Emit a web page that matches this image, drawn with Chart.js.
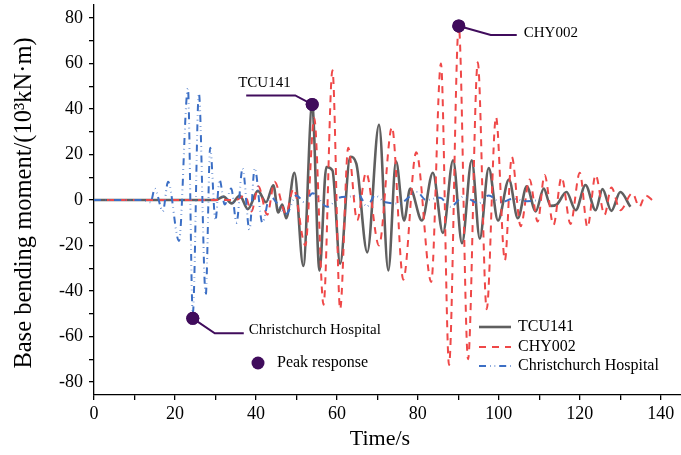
<!DOCTYPE html>
<html>
<head>
<meta charset="utf-8">
<script src="https://cdn.jsdelivr.net/npm/chart.js@4.4.1/dist/chart.umd.min.js"></script>
<style>
  html, body { margin: 0; padding: 0; background: #fff; }
  canvas { display: block; }
</style>
</head>
<body>
<canvas id="moment" width="681" height="455"></canvas>
<script>
// Base bending moment time histories (10^3 kN·m) under three ground motions
const seriesNames = ['TCU141', 'CHY002', 'Christchurch Hospital'];

const tcuTime = [0, 30, 32, 34, 36, 38, 40.5, 42.5, 44.3, 45.5,
  46.5, 47.5, 49.5, 51.7, 53.9, 55.7, 57.4, 58.9, 60.8, 63.3,
  64.8, 67.5, 70.4, 72.7, 74.6, 76.6, 78.1, 81, 83.7, 86.2,
  88.7, 90.9, 93.3, 95.3, 97.5, 99.8, 102.5, 104.7, 106.9, 109.1,
  111.1, 112.8, 114.3, 116.7, 119, 121.4, 123.9, 125.6, 127.8, 130,
  132.5];
const tcuMoment = [0, 0, 1.5, -1.5, 2, -4, 4, -1, 6.5, -5.5,
  -2, -8, 12, -29, 42, -31, 14.5, 13, -28, 19,
  16, -23, 33, -31, 17, -9, 5, -9, 12, -14.5,
  17.5, -19, 17.5, -17, 14, -9, 9, -8, 6, -5,
  5, -2.6, -2, 3.5, -4.5, 6.6, -4.5, 4.8, -4.8, 3.5,
  -3];

const chyTime = [0, 35, 37.3, 38.9, 40.6, 42.8, 44.6, 47.4, 49.3, 52.2,
  54.4, 56.7, 58.9, 60.8, 62.8, 65, 67.2, 70.4, 73.6, 76.4,
  79.6, 83.3, 85.7, 87.7, 90.1, 92.4, 94.8, 97, 99.3, 101.5,
  103.2, 105.4, 107.6, 109.6, 111.3, 113.5, 115.5, 117.7, 120, 121.9,
  123.9, 126.1, 127.8, 130, 133, 134.7, 136.2, 138.2];
const chyMoment = [0, 0, 2, -5, 6, -6.5, 8, -6, 5, -20,
  36, -46, 57, -48, 23, -9, 12, -20, 32, -35,
  21, -36, 60, -72.5, 76.5, -70, 60.5, -48, 36.5, -26.5,
  19, -11.5, 9, -9.5, 11, -11, 10, -10.5, 12, -12,
  11, -6.5, 5.5, -4.5, 3, -3, 2, -0.5];

const chchTime = [0, 12, 14, 15, 17, 18.3, 21, 23.2, 24.4, 25.9,
  27.6, 28.7, 30, 31, 32.3, 33.9, 35.2, 36.7, 38.4, 39.7,
  41.6, 43.5, 45, 47.5, 50, 52, 54, 57.6, 60.5, 63,
  65.5, 67.4, 69.4, 72, 75.4, 79.8, 82, 85.5, 88, 91.3,
  95, 97.5, 100.5, 103.5, 107, 110.5];
const chchMoment = [0, 0, -1, 5, -5, 8, -18, 49, -50, 47,
  -42, 23, -9, 9, -2, 5, -10, 14, -13, 14,
  -10, 2, -1, -6, 2, -1, 3, -3, 1, 1.5,
  2, -3, 2, -1, -1.5, 3.5, 0, 1, -3, 1.5,
  -1.5, 2, -1, 0.5, -0.5, 0];

// Peak responses marked on the plot
const peakTime = [24.4, 53.9, 90.1];
const peakMoment = [-52, 42, 76.5];
const peakLabels = ['Christchurch Hospital', 'TCU141', 'CHY002'];
const peakLegendText = 'Peak response';

const xTickLabels = [0, 20, 40, 60, 80, 100, 120, 140];
const yTickLabels = [-80, -60, -40, -20, 0, 20, 40, 60, 80];
const xTitle = 'Time/s';
const yTitle = 'Base bending moment/(10³kN·m)';

const pts = (t, v) => t.map((x, i) => ({ x: x, y: v[i] }));

const SERIF = '"Liberation Serif", "Times New Roman", serif';
const PURPLE = '#400c5c';
const lineStyles = {
  'TCU141': { color: '#5f5f5f', width: 2.6, dash: [] },
  'CHY002': { color: '#ef4848', width: 2, dash: [7, 6] },
  'Christchurch Hospital': { color: '#3c6fc5', width: 2, dash: [7, 4, 0.6, 4, 0.6, 4] }
};

// Leader lines from each peak marker to its label (pixel offsets)
const calloutGeometry = [
  { elbow: [22, 15], end: [51, 15], text: [56, 12] },
  { elbow: [-17, -9], end: [-66, -9], text: [-74, -21] },
  { elbow: [32, 9], end: [58, 9], text: [65, 7] }
];

const annotations = {
  id: 'annotations',
  afterDatasetsDraw(chart) {
    const ctx = chart.ctx;
    const meta = chart.getDatasetMeta(0);
    ctx.save();
    ctx.strokeStyle = PURPLE;
    ctx.lineWidth = 2;
    ctx.setLineDash([]);
    ctx.fillStyle = '#000';
    ctx.font = '15px ' + SERIF;
    ctx.textAlign = 'left';
    ctx.textBaseline = 'middle';
    meta.data.forEach((pt, i) => {
      const g = calloutGeometry[i];
      ctx.beginPath();
      ctx.moveTo(pt.x, pt.y);
      ctx.lineTo(pt.x + g.elbow[0], pt.y + g.elbow[1]);
      ctx.lineTo(pt.x + g.end[0], pt.y + g.end[1]);
      ctx.stroke();
      ctx.fillText(peakLabels[i], pt.x + g.text[0], pt.y + g.text[1]);
    });
    // markers sit above the leader lines
    ctx.fillStyle = PURPLE;
    meta.data.forEach(pt => {
      ctx.beginPath();
      ctx.arc(pt.x, pt.y, 6.5, 0, Math.PI * 2);
      ctx.fill();
    });

    // legend
    ctx.font = '16px ' + SERIF;
    const rows = [327, 347, 366];
    seriesNames.forEach((name, i) => {
      const s = lineStyles[name];
      ctx.strokeStyle = s.color;
      ctx.lineWidth = s.width;
      ctx.setLineDash(s.dash);
      ctx.beginPath();
      ctx.moveTo(479, rows[i]);
      ctx.lineTo(511, rows[i]);
      ctx.stroke();
      ctx.fillStyle = '#000';
      ctx.fillText(name, 518, rows[i]);
    });
    ctx.setLineDash([]);
    ctx.fillStyle = PURPLE;
    ctx.beginPath();
    ctx.arc(258, 363, 6.5, 0, Math.PI * 2);
    ctx.fill();
    ctx.fillStyle = '#000';
    ctx.fillText(peakLegendText, 277, 363);

    // axis titles
    ctx.font = '22px ' + SERIF;
    ctx.textAlign = 'center';
    ctx.fillText(xTitle, 380, 439);
    ctx.save();
    ctx.translate(25, 203);
    ctx.rotate(-Math.PI / 2);
    ctx.font = '24.5px ' + SERIF;
    ctx.fillText(yTitle, 0, 0);
    ctx.restore();
    ctx.restore();
  }
};

function lineDataset(name, t, v, order) {
  const s = lineStyles[name];
  return {
    label: name,
    data: pts(t, v),
    borderColor: s.color,
    borderWidth: s.width,
    borderDash: s.dash,
    pointRadius: 0,
    fill: false,
    cubicInterpolationMode: 'monotone',
    order: order
  };
}

const axisFont = { family: SERIF, size: 18 };
const axisGrid = { display: true, drawOnChartArea: false, drawTicks: true, tickLength: 5, color: '#000', lineWidth: 1.3 };
const axisBorder = { display: true, color: '#000', width: 1.3 };

new Chart(document.getElementById('moment'), {
  type: 'line',
  data: {
    datasets: [
      {
        label: peakLegendText,
        data: pts(peakTime, peakMoment),
        showLine: false,
        pointRadius: 6.5,
        pointBackgroundColor: PURPLE,
        pointBorderWidth: 0,
        order: 0
      },
      lineDataset('Christchurch Hospital', chchTime, chchMoment, 1),
      lineDataset('CHY002', chyTime, chyMoment, 2),
      lineDataset('TCU141', tcuTime, tcuMoment, 3)
    ]
  },
  options: {
    responsive: false,
    devicePixelRatio: 1,
    animation: false,
    layout: { autoPadding: false, padding: { top: 5, right: 0, bottom: 0, left: 0 } },
    plugins: { legend: { display: false }, tooltip: { enabled: false } },
    scales: {
      x: {
        type: 'linear',
        min: 0,
        max: 145,
        ticks: {
          stepSize: 10,
          includeBounds: false,
          autoSkip: false,
          maxRotation: 0,
          color: '#000',
          font: axisFont,
          padding: 3,
          callback: v => (xTickLabels.includes(v) ? String(v) : '')
        },
        grid: axisGrid,
        border: axisBorder,
        afterFit(scale) {
          scale.height = 60;
          scale.paddingLeft = 0;
          scale.paddingRight = 0;
        }
      },
      y: {
        type: 'linear',
        min: -85.7,
        max: 85.7,
        ticks: {
          stepSize: 10,
          includeBounds: false,
          autoSkip: false,
          color: '#000',
          font: axisFont,
          padding: 6,
          callback: v => (yTickLabels.includes(v) ? String(v) : '')
        },
        grid: axisGrid,
        border: axisBorder,
        afterFit(scale) {
          scale.width = 94;
          scale.paddingTop = 0;
          scale.paddingBottom = 0;
        }
      }
    }
  },
  plugins: [annotations]
});
</script>
</body>
</html>
